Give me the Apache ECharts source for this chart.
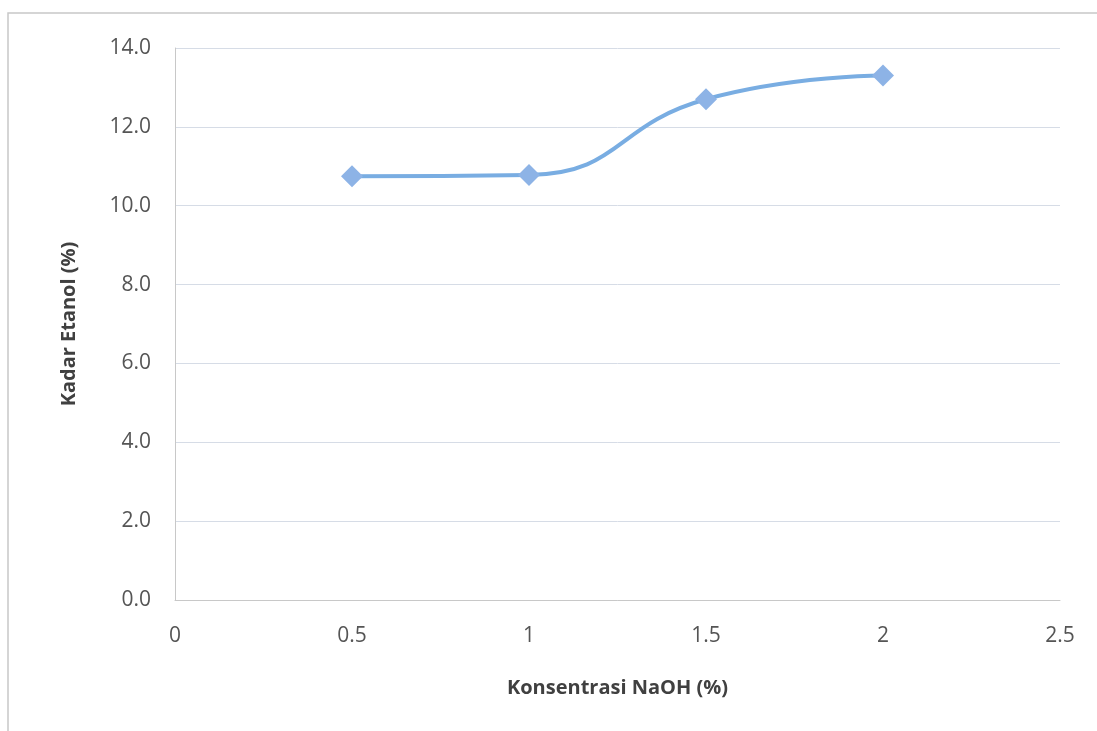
<!DOCTYPE html>
<html><head><meta charset="utf-8">
<script src="https://cdn.jsdelivr.net/npm/echarts@6/dist/echarts.min.js"></script>
<style>html,body{margin:0;padding:0;background:#fff}#c{width:1097px;height:731px}</style>
</head><body><div id="c"></div>
<script>
const naoh = [0.5, 1, 1.5, 2];
const etanol = [10.75, 10.78, 12.7, 13.3];
const xTitle = 'Konsentrasi NaOH (%)';
const yTitle = 'Kadar Etanol (%)';

const chart = echarts.init(document.getElementById('c'));
chart.setOption({
  animation: false,
  backgroundColor: '#fff',
  graphic: [{type:'rect', shape:{x:8, y:13, width:1100, height:740}, style:{fill:'none', stroke:'#c8c8c8', lineWidth:1.5}, silent:true}],
  grid: {left: 175, right: 37, top: 48, bottom: 131},
  xAxis: {
    type: 'value', min: 0, max: 2.5, interval: 0.5,
    name: xTitle, nameLocation: 'middle', nameGap: 78,
    nameTextStyle: {fontFamily: 'Open Sans', fontSize: 20, fontWeight: 'bold', color: '#404040'},
    axisLine: {show: true, lineStyle: {color: '#c8c8c8'}},
    axisTick: {show: false},
    splitLine: {show: false},
    axisLabel: {fontFamily: 'Open Sans', fontSize: 21, color: '#555', margin: 26}
  },
  yAxis: {
    type: 'value', min: 0, max: 14, interval: 2,
    name: yTitle, nameLocation: 'middle', nameGap: 96, nameRotate: 90,
    nameTextStyle: {fontFamily: 'Open Sans', fontSize: 20, fontWeight: 'bold', color: '#404040'},
    axisLine: {show: true, lineStyle: {color: '#c8c8c8'}},
    axisTick: {show: false},
    splitLine: {lineStyle: {color: '#d6dce6'}},
    axisLabel: {fontFamily: 'Open Sans', fontSize: 21, color: '#555', margin: 24,
      formatter: v => v.toFixed(1)}
  },
  series: [{
    type: 'line', smooth: 0.5,
    data: naoh.map((x, i) => [x, etanol[i]]),
    symbol: 'diamond', symbolSize: 22,
    lineStyle: {color: '#79ade2', width: 4},
    itemStyle: {color: '#8db3e6'}
  }]
});
</script></body></html>
